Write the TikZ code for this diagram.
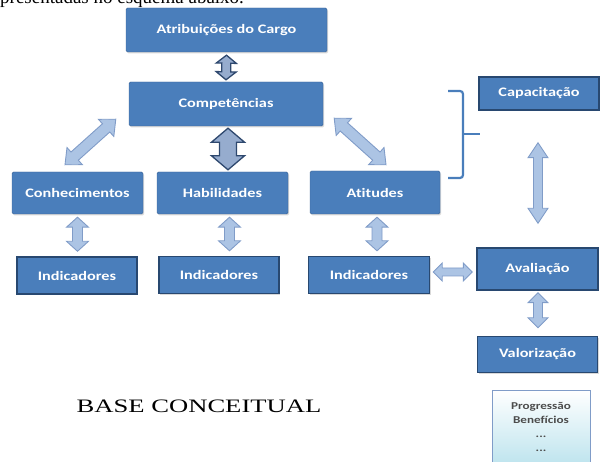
\documentclass[tikz,border=0pt]{standalone}
\usepackage{fontspec}
\setmainfont{Liberation Serif}
\newfontfamily\boxfont{Carlito}[FakeStretch=1.25, Ligatures=NoCommon]
\newfontfamily\docfont{Liberation Serif}[FakeStretch=1.4]
\usetikzlibrary{calc,shadows}
\definecolor{box area}{RGB}{74,126,187}
\definecolor{box edge}{RGB}{60,100,150}
\definecolor{ind edge}{RGB}{40,72,112}
\definecolor{arrow light}{RGB}{236,242,250}
\definecolor{arrow mid}{RGB}{172,196,228}
\definecolor{arrow edge}{RGB}{128,156,200}
\definecolor{arrow dark}{RGB}{150,172,206}
\definecolor{arrow darkedge}{RGB}{46,72,110}
\definecolor{note area}{RGB}{190,228,238}
\tikzset{box/.style={rectangle, rounded corners=1.5pt, fill=box area, draw=box edge,
        inner sep=0pt, text=white, font=\boxfont\bfseries\fontsize{13}{15}\selectfont,
        drop shadow={opacity=.3, shadow xshift=1.2pt, shadow yshift=-1.5pt}},
    indbox/.style={box, rounded corners=0pt, draw=ind edge, line width=1.4pt},
    lightarrow/.style={draw=arrow edge, line width=.9pt, left color=arrow mid,
        middle color=arrow light, right color=arrow mid},
    darkarrow/.style={draw=arrow darkedge, line width=1.3pt, fill=arrow dark},
    brace/.style={draw=box area, line width=2.2pt, rounded corners=3pt}}
% block double arrow: style, from, to, half shaft, half head, head length
\newcommand\blockarrow[6]{%
  \coordinate (ba) at #2; \coordinate (bb) at #3;
  \coordinate (ha) at ($(ba)!#6!(bb)$);
  \coordinate (hb) at ($(bb)!#6!(ba)$);
  \draw[#1] (ba) -- ($(ha)!#5!90:(bb)$) -- ($(ha)!#4!90:(bb)$)
    -- ($(hb)!#4!-90:(ba)$) -- ($(hb)!#5!-90:(ba)$) -- (bb)
    -- ($(hb)!#5!90:(ba)$) -- ($(hb)!#4!90:(ba)$)
    -- ($(ha)!#4!-90:(bb)$) -- ($(ha)!#5!-90:(bb)$) -- cycle;}

\begin{document}
\begin{tikzpicture}[x=1pt, y=-1pt]
 \useasboundingbox (0,0) rectangle (600,462);
 \clip (0,0) rectangle (600,462);

 \node[anchor=base west, inner sep=0pt, font=\fontsize{19}{22}\selectfont] (intro) at (0,4) {presentadas no esquema abaixo.};

 \node[box, minimum width=201, minimum height=44] (atrib) at (226.5,30) {Atribuições do Cargo};
 \node[box, minimum width=194, minimum height=44] (comp) at (226,104) {Competências};
 \node[box, minimum width=131, minimum height=42] (conh) at (77.5,193) {Conhecimentos};
 \node[box, minimum width=131, minimum height=42] (habil) at (222.5,193) {Habilidades};
 \node[box, minimum width=130, minimum height=43] (atit) at (375,192.5) {Atitudes};

 \node[indbox, minimum width=120, minimum height=37] (ind1) at (77,275.5) {Indicadores};
 \node[indbox, minimum width=120, minimum height=37] (ind2) at (219,275) {Indicadores};
 \node[indbox, minimum width=121, minimum height=37] (ind3) at (369,275) {Indicadores};

 \node[indbox, minimum width=120, minimum height=33] (capac) at (539,93.5) {Capacitação};
 \node[indbox, minimum width=121, minimum height=42] (aval) at (537.5,269) {Avaliação};
 \node[indbox, minimum width=120, minimum height=36] (valor) at (537.5,354.5) {Valorização};

 \node[box, rounded corners=0pt, draw=arrow edge, line width=.6pt, top color=white, bottom color=note area,
   minimum width=98, minimum height=74, text=black!70, align=center, anchor=north,
   font=\boxfont\bfseries\fontsize{10.5}{14}\selectfont] (progr) at (541,390)
   {Progressão\\Benefícios\\...\\...};

 \node[anchor=base, inner sep=0pt, font=\docfont\fontsize{19}{22}\selectfont] (base) at (199,413) {BASE CONCEITUAL};

 % brace round the upper boxes
 \draw[brace] (448,91) -- (463,91) -- (463,178) -- (448,178);
 \draw[brace] (463,134) -- (480,134);

 \blockarrow{darkarrow}{($(atrib.south)+(0,3)$)}{($(comp.north)+(0,-2)$)}{4.5pt}{10pt}{8pt}
 \blockarrow{darkarrow}{($(comp.south)+(2,2)$)}{($(comp.south |- habil.north)+(2,-2)$)}{8.5pt}{16.5pt}{14pt}
 \blockarrow{lightarrow}{($(comp.south west)+(-13,-7)$)}{($(conh.north)+(-12.5,-7)$)}{5.5pt}{11.5pt}{13pt}
 \blockarrow{lightarrow}{($(comp.south east)+(11,-8)$)}{($(atit.north)+(11,-6)$)}{5.5pt}{11.5pt}{13pt}

 \blockarrow{lightarrow}{($(conh.south)+(0,3)$)}{($(conh.south |- ind1.north)+(0,-5)$)}{5pt}{11pt}{10pt}
 \blockarrow{lightarrow}{($(habil.south)+(7,3)$)}{($(habil.south |- ind2.north)+(7,-5)$)}{5pt}{11pt}{10pt}
 \blockarrow{lightarrow}{($(atit.south)+(2,3)$)}{($(atit.south |- ind3.north)+(2,-5)$)}{5pt}{11pt}{10pt}

 \blockarrow{lightarrow}{($(ind3.east)+(3,-3)$)}{($(aval.west)+(-4,3)$)}{4pt}{9pt}{9pt}
 \blockarrow{lightarrow}{($(capac.south)+(-1,32)$)}{($(aval.north)+(0.5,-24)$)}{4.5pt}{10pt}{15pt}
 \blockarrow{lightarrow}{($(aval.south)+(0.5,2)$)}{($(valor.north)+(0.5,-8)$)}{4.5pt}{10pt}{10pt}
\end{tikzpicture}
\end{document}
